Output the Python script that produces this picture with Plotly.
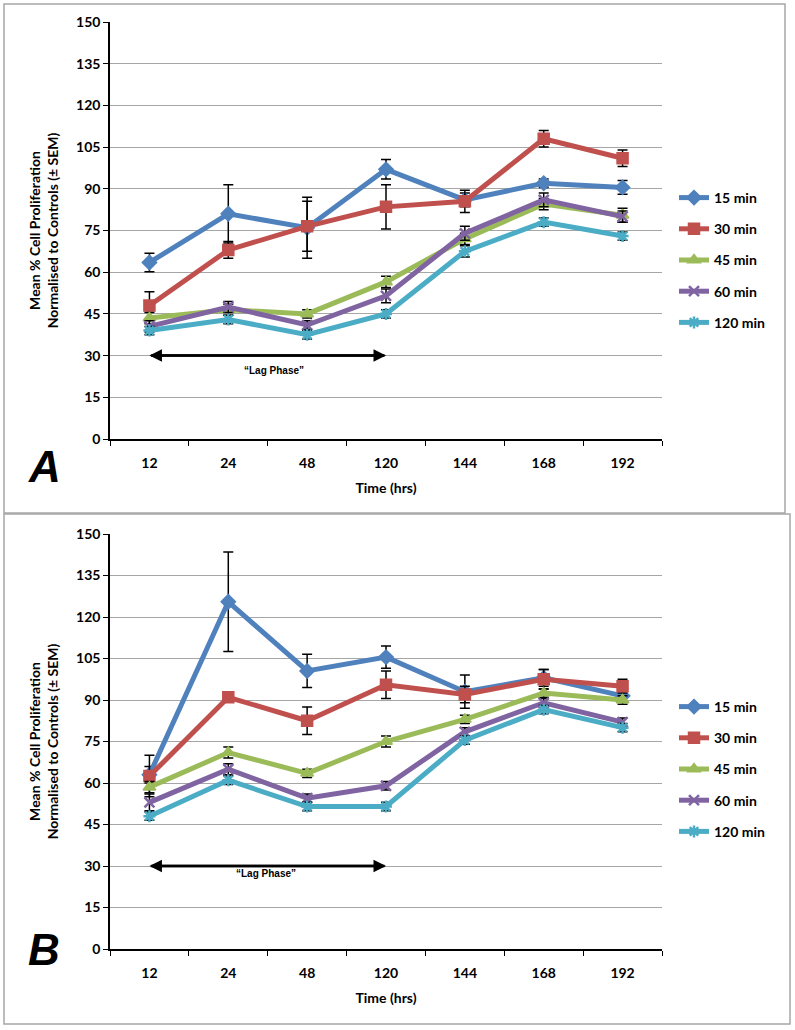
import plotly.graph_objects as go
from plotly.subplots import make_subplots

# Data
times = ["12", "24", "48", "120", "144", "168", "192"]
series = ["15 min", "30 min", "45 min", "60 min", "120 min"]
colors = ["#4F81BD", "#C0504D", "#9BBB59", "#8064A2", "#4BACC6"]
symbols = ["diamond", "square", "triangle-up", "x-thin-open", "asterisk-open"]
y_ticks = [0, 15, 30, 45, 60, 75, 90, 105, 120, 135, 150]

# Panel A means and SEM
a_15 = [63.5, 81, 76, 97, 86, 92, 90.5]
a_30 = [48, 68, 76.5, 83.5, 85.5, 108, 101]
a_45 = [43.5, 46.5, 45, 56.5, 72, 84.5, 80.5]
a_60 = [40.5, 47.5, 41, 51.5, 74, 86, 80]
a_120 = [39, 43, 37.5, 45, 67.5, 78, 73]
a_15_err = [3.3, 10.5, 11, 3.5, 2.5, 1.5, 2.5]
a_30_err = [5, 3, 9, 8, 4, 3, 3]
a_45_err = [2, 2, 1.5, 2, 2, 2, 2.5]
a_60_err = [2, 2, 1.5, 2.5, 2.5, 2.5, 2]
a_120_err = [1.5, 1.5, 1.5, 1.5, 2, 1.5, 1.5]

# Panel B means and SEM
b_15 = [63, 125.5, 100.5, 105.5, 93, 98, 91.5]
b_30 = [62.5, 91, 82.5, 95.5, 92, 97.5, 95]
b_45 = [58.5, 71, 63.5, 75, 83, 92.5, 90]
b_60 = [53, 65, 54.5, 59, 78.5, 89, 82]
b_120 = [48, 61, 51.5, 51.5, 75.5, 86.5, 80]
b_15_err = [3, 18, 6, 4, 6, 3, 2]
b_30_err = [7.5, 1.5, 5, 5, 3, 3.5, 2.5]
b_45_err = [2, 2, 1.5, 2, 1.5, 1.5, 1.5]
b_60_err = [3, 2, 1.5, 1.5, 1.5, 1.5, 1.5]
b_120_err = [1.5, 1.5, 1.5, 1.5, 1.5, 1.5, 1.5]

panel_a = [(a_15, a_15_err), (a_30, a_30_err), (a_45, a_45_err), (a_60, a_60_err), (a_120, a_120_err)]
panel_b = [(b_15, b_15_err), (b_30, b_30_err), (b_45, b_45_err), (b_60, b_60_err), (b_120, b_120_err)]

W, H = 795, 1030
FONT = "Lato"


def px_x(p):
    return p / W


def px_y(p):
    return 1 - p / H


fig = make_subplots(rows=2, cols=1)

for row, (panel, leg) in enumerate([(panel_a, "legend"), (panel_b, "legend2")], start=1):
    for i, (vals, errs) in enumerate(panel):
        fig.add_trace(go.Scatter(
            x=times, y=vals, name=series[i],
            mode="lines+markers",
            line=dict(color=colors[i], width=5),
            marker=dict(symbol=symbols[i], size=11 if i < 3 else 10, color=colors[i],
                        line=dict(color=colors[i], width=1.5 if i < 3 else 2.5)),
            error_y=dict(type="data", array=errs, color="black", thickness=1.5, width=5),
            legend=leg, legendgroup=f"{row}-{i}",
        ), row=row, col=1)

axis_common = dict(showline=True, linecolor="black", linewidth=1.5, ticks="outside",
                   tickcolor="black", ticklen=5, automargin=False,
                   tickfont=dict(family=FONT, size=14, color="black", weight="bold"))

for row in (1, 2):
    fig.update_xaxes(type="category", categoryorder="array", categoryarray=times,
                     range=[-0.5, len(times) - 0.5], tickson="boundaries", showgrid=False,
                     tickangle=0, ticklabelstandoff=10,
                     title=dict(text="Time (hrs)", font=dict(family=FONT, size=14, color="black",
                                                             weight="bold"), standoff=14),
                     row=row, col=1, **axis_common)
    fig.update_yaxes(range=[0, 150], tickvals=y_ticks, showgrid=True, gridcolor="#A6A6A6",
                     gridwidth=1.2, zeroline=False,
                     title=dict(text="Mean % Cell Proliferation<br>Normalised to Controls (± SEM)",
                                font=dict(family=FONT, size=14, color="black", weight="bold"),
                                standoff=14),
                     row=row, col=1, **axis_common)

fig.update_layout(
    xaxis=dict(domain=[px_x(110), px_x(662)]),
    xaxis2=dict(domain=[px_x(110), px_x(662)]),
    yaxis=dict(domain=[px_y(439), px_y(22)]),
    yaxis2=dict(domain=[px_y(949), px_y(534)]),
)

leg_style = dict(font=dict(family=FONT, size=14, color="black", weight="bold"),
                 bgcolor="rgba(0,0,0,0)", tracegroupgap=10, itemwidth=30,
                 xanchor="left", yanchor="top")
fig.update_layout(
    legend=dict(x=px_x(674), y=px_y(182), **leg_style),
    legend2=dict(x=px_x(674), y=px_y(691), **leg_style),
)

# panel frames
shapes = [
    dict(type="rect", xref="paper", yref="paper", x0=px_x(4), x1=px_x(785), y0=px_y(513), y1=px_y(4),
         line=dict(color="#A6A6A6", width=1.5)),
    dict(type="rect", xref="paper", yref="paper", x0=px_x(4), x1=px_x(790), y0=px_y(1024), y1=px_y(514),
         line=dict(color="#A6A6A6", width=1.5)),
]
fig.update_layout(shapes=shapes)

# panel letters and double-headed "lag phase" arrows from 12 h to 120 h at y=30
for xref, yref, label, ly in [("x", "y", "A", 466), ("x2", "y2", "B", 976)]:
    fig.add_annotation(x=px_x(26), y=px_y(ly), xref="paper", yref="paper", text=f"<i>{label}</i>",
                       showarrow=False, font=dict(family="Liberation Sans", size=44, color="black",
                                                  weight="bold"))
    for head, tail in [(3, 0), (0, 3)]:
        fig.add_annotation(x=head, y=30, ax=tail, ay=30, xref=xref, yref=yref, axref=xref, ayref=yref,
                           text="", showarrow=True, arrowhead=2, arrowsize=1, arrowwidth=2.5,
                           arrowcolor="black", standoff=0, startstandoff=0)

fig.add_annotation(x=px_x(242), y=px_y(370), xref="paper", yref="paper", text="“Lag Phase”",
                   showarrow=False, font=dict(family="Liberation Sans", size=10, color="black",
                                              weight="bold"))
fig.add_annotation(x=px_x(266), y=px_y(881), xref="paper", yref="paper", text="“Lag Phase”",
                   showarrow=False, font=dict(family="Liberation Sans", size=10, color="black",
                                              weight="bold"))

fig.update_layout(width=W, height=H, margin=dict(l=0, r=0, t=0, b=0, autoexpand=False),
                  plot_bgcolor="white", paper_bgcolor="white", showlegend=True)

fig.write_html("out.html", config={"displayModeBar": False},
               post_script="document.body.style.margin='0';")
